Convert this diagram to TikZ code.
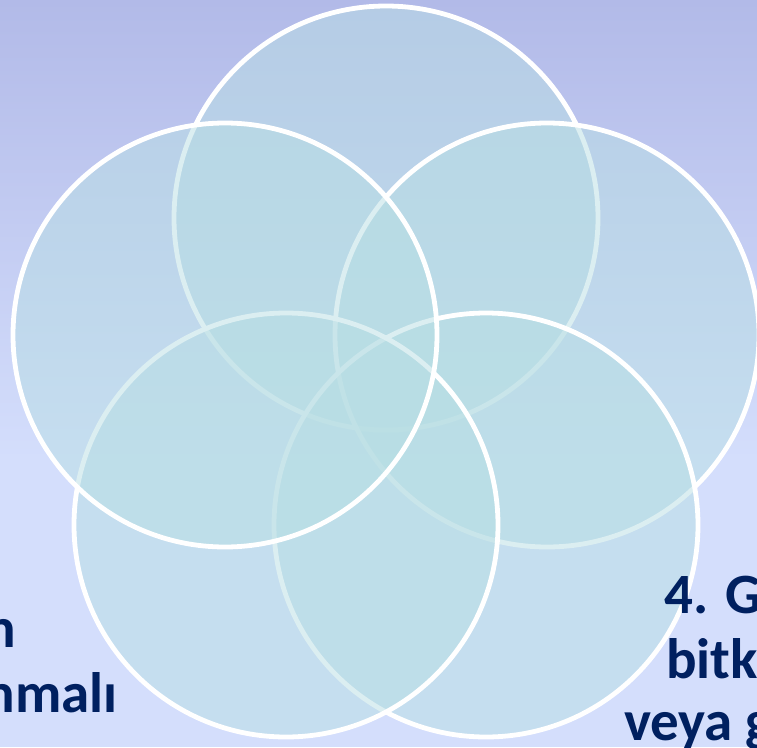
\documentclass[tikz,border=0pt]{standalone}
\usepackage{fontspec}
\setmainfont{Carlito}
\definecolor{bgtop}{RGB}{178,186,232}
\definecolor{bgbot}{RGB}{212,222,252}
\definecolor{circfill}{RGB}{184,222,228}
\definecolor{navy}{RGB}{0,32,96}
\tikzset{
  circ/.style={circle, minimum size=424pt, inner sep=0pt, draw=white, line width=4.8pt, fill=circfill, fill opacity=0.5, draw opacity=1},
  lbl/.style={inner sep=0pt, text=navy, font=\fontsize{57}{66}\selectfont\bfseries}
}
\begin{document}
\begin{tikzpicture}[x=1pt,y=-1pt]
\useasboundingbox (0,0) rectangle (757,747);
\clip (0,0) rectangle (757,747);
\shade[top color=bgtop, bottom color=bgbot] (0,0) rectangle (757,460);
\fill[bgbot] (0,459) rectangle (757,747);
\node[circ] (c1) at (386,218) {};
\node[circ] (c2) at (547,335) {};
\node[circ] (c3) at (486,525) {};
\node[circ] (c4) at (286,525) {};
\node[circ] (c5) at (225,335) {};
\node[lbl, anchor=base east] (l1) at (16,647) {n};
\node[lbl, anchor=base east] (l2) at (118,712) {nmalı};
\node[lbl, anchor=base west] (r1) at (664,613) {4. G};
\node[lbl, anchor=base west] (r2) at (666,678) {bitk};
\node[lbl, anchor=base west] (r3) at (624,740) {veya g};
\end{tikzpicture}
\end{document}
